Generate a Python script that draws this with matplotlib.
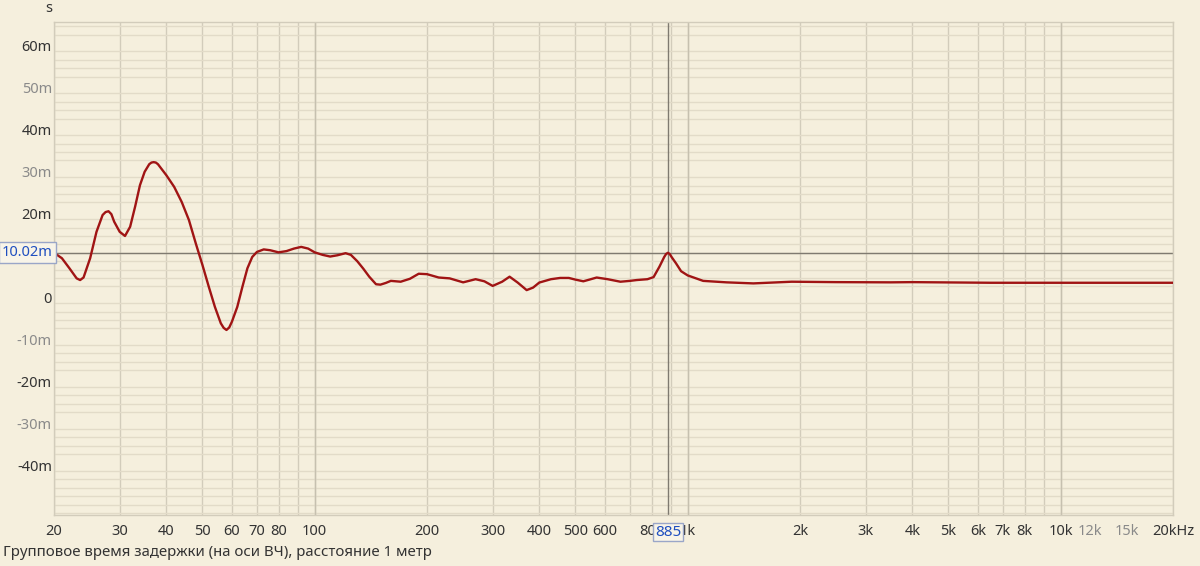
import numpy as np
import matplotlib
matplotlib.use("Agg")
import matplotlib.pyplot as plt
from matplotlib.ticker import LogLocator, MultipleLocator, NullFormatter
import matplotlib.transforms as mtransforms

# ---- data ----
freq_hz = [20, 21, 22, 23, 23.5, 24, 25, 26, 27, 27.5, 28, 28.5, 29, 30, 31, 32, 33, 34,
           35, 36, 36.5, 37, 37.5, 38, 40, 42, 44, 46, 48, 50, 52, 54, 56, 57, 58, 59,
           60, 62, 64, 66, 68, 70, 73, 76, 80, 84, 88, 92, 96, 100, 105, 110, 115, 121,
           125, 130, 135, 140, 146, 150, 155, 160, 165, 170, 180, 190, 200, 215, 230,
           250, 270, 285, 300, 318, 333, 350, 370, 385, 400, 430, 455, 480, 500, 525,
           545, 570, 610, 660, 700, 730, 780, 810, 840, 865, 875, 885, 895, 905, 930,
           960, 1000, 1100, 1270, 1500, 1900, 2500, 3500, 4000, 6500, 10000, 20000]
delay_ms = [10.0, 8.7, 6.3, 3.9, 3.5, 4.1, 8.7, 15.0, 19.0, 19.7, 19.9, 19.2, 17.4, 15.0,
            14.0, 16.2, 21.0, 26.1, 29.3, 31.1, 31.5, 31.6, 31.5, 31.1, 28.5, 25.7, 22.1,
            17.8, 12.2, 7.1, 1.9, -2.9, -6.8, -7.9, -8.4, -7.8, -6.4, -2.9, 1.9, 6.3,
            9.0, 10.2, 10.8, 10.6, 10.1, 10.4, 11.0, 11.4, 11.0, 10.1, 9.5, 9.1, 9.4,
            9.9, 9.5, 8.0, 6.2, 4.3, 2.5, 2.4, 2.8, 3.3, 3.2, 3.1, 3.8, 5.0, 4.9, 4.1,
            3.9, 2.95, 3.7, 3.2, 2.1, 3.1, 4.3, 2.9, 1.1, 1.7, 2.9, 3.7, 4.0, 4.0, 3.6,
            3.2, 3.6, 4.1, 3.7, 3.1, 3.3, 3.5, 3.7, 4.2, 6.7, 9.0, 9.7, 10.0, 9.7, 9.0,
            7.5, 5.6, 4.6, 3.3, 2.95, 2.7, 3.1, 3.0, 2.95, 3.0, 2.85, 2.85, 2.85]

x_tick_values = [20, 30, 40, 50, 60, 70, 80, 100, 200, 300, 400, 500, 600, 800,
                 1000, 2000, 3000, 4000, 5000, 6000, 7000, 8000, 10000, 12000, 15000, 20000]
x_tick_labels = ["20", "30", "40", "50", "60", "70", "80", "100", "200", "300", "400",
                 "500", "600", "800", "1k", "2k", "3k", "4k", "5k", "6k", "7k", "8k",
                 "10k", "12k", "15k", "20kHz"]
x_grey_labels = ["12k", "15k"]
y_tick_values = [-40, -30, -20, -10, 0, 20, 30, 40, 50, 60]
y_tick_labels = ["-40m", "-30m", "-20m", "-10m", "0", "20m", "30m", "40m", "50m", "60m"]
y_grey_labels = ["-30m", "-10m", "30m", "50m"]
cursor_freq = 885
cursor_delay = 10.02
cursor_freq_label = "885"
cursor_delay_label = "10.02m"
title = "Групповое время задержки (на оси ВЧ), расстояние 1 метр"

# ---- style ----
BG = "#F5EFDD"
HGRID = "#E2DBC8"
VGRID = "#D2CCBB"
DECADE = "#C6C0AF"
CURSOR = "#7F7A70"
CURVE = "#A01414"
DARK = "#333333"
GREY = "#8A8A8A"
BLUE = "#1F4FC0"
plt.rcParams["font.family"] = ["Noto Sans", "DejaVu Sans"]
FS = 10.5

W, H = 1200, 566
fig = plt.figure(figsize=(W / 100, H / 100), dpi=100, facecolor=BG)
L, R, T, B = 54, 1173, 22, 515
ax = fig.add_axes([L / W, 1 - B / H, (R - L) / W, (B - T) / H])
ax.set_facecolor(BG)
ax.set_xscale("log")
ax.set_xlim(20, 20000)
ax.set_ylim(-52.5, 65)

# grid
ax.xaxis.remove_overlapping_locs = False
ax.xaxis.set_minor_locator(LogLocator(base=10, subs=np.arange(1, 10), numticks=100))
ax.xaxis.set_minor_formatter(NullFormatter())
ax.yaxis.set_minor_locator(MultipleLocator(2))
ax.yaxis.set_minor_formatter(NullFormatter())
ax.grid(which="minor", axis="x", color=VGRID, lw=1.0)
ax.grid(which="minor", axis="y", color=HGRID, lw=1.0)
ax.grid(which="major", visible=False)
for dec in (100, 1000, 10000):
    ax.axvline(dec, color=DECADE, lw=1.0, zorder=1.6)
for sp in ax.spines.values():
    sp.set_color(VGRID)
    sp.set_linewidth(1.0)

# ticks
ax.set_xticks(x_tick_values)
ax.set_xticklabels(x_tick_labels)
ax.set_yticks(y_tick_values)
ax.set_yticklabels(y_tick_labels)
ax.tick_params(which="both", length=0)
ax.tick_params(axis="x", pad=6.3, labelsize=FS)
ax.tick_params(axis="y", pad=1.5, labelsize=FS)
for lab in ax.get_xticklabels():
    lab.set_color(GREY if lab.get_text() in x_grey_labels else DARK)
shift = mtransforms.ScaledTranslation(0, -0.03, fig.dpi_scale_trans)
for lab in ax.get_yticklabels():
    lab.set_color(GREY if lab.get_text() in y_grey_labels else DARK)
    lab.set_transform(lab.get_transform() + shift)

# cursor lines
ax.axvline(cursor_freq, color=CURSOR, lw=1.0, zorder=2)
ax.axhline(cursor_delay, color=CURSOR, lw=1.0, zorder=2)

# curve
ax.plot(freq_hz, delay_ms, color=CURVE, lw=1.7, zorder=3,
        solid_joinstyle="round", solid_capstyle="round")

# cursor labels
tr_left = mtransforms.blended_transform_factory(fig.transFigure, ax.transData)
fig.text(2 / W, cursor_delay, cursor_delay_label, transform=tr_left, ha="left", va="center",
         fontsize=FS, color=BLUE, zorder=10,
         bbox=dict(boxstyle="square,pad=0.2", fc="#F8F4E8", ec="#9AA6C8", lw=1.0))
tr_bot = mtransforms.blended_transform_factory(ax.transData, fig.transFigure)
ax.text(cursor_freq, 1 - 532 / H, cursor_freq_label, transform=tr_bot, ha="center", va="center",
        fontsize=FS + 0.5, color=BLUE, zorder=10, clip_on=False,
        bbox=dict(boxstyle="square,pad=0.12", fc="#F8F4E8", ec="#9AA6C8", lw=1.0))

# texts
fig.text(49 / W, 1 - 9 / H, "s", ha="center", va="center", fontsize=FS, color=DARK)
fig.text(3 / W, 1 - 553 / H, title, ha="left", va="center", fontsize=10.8, color=DARK)

fig.savefig("out.png", dpi=100, facecolor=BG)
